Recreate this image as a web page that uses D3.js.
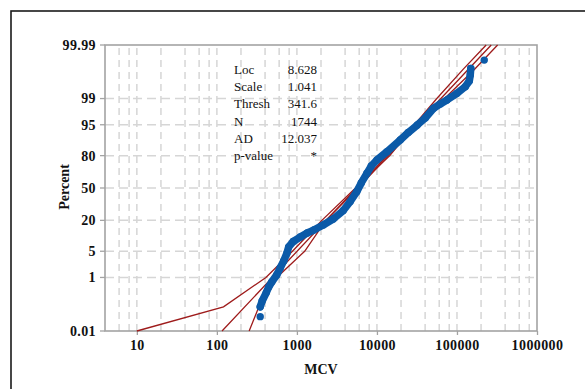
<!DOCTYPE html>
<html><head><meta charset="utf-8">
<script src="https://cdn.jsdelivr.net/npm/d3@7"></script>
<style>body{margin:0;background:#fff}svg{display:block}</style>
</head><body>
<svg id="c" width="585" height="389"></svg>
<script>
// ---- data ----
const xTickValues = [10, 100, 1000, 10000, 100000, 1000000];
const xTickLabels = ["10", "100", "1000", "10000", "100000", "1000000"];
const yTickValues = [0.01, 1, 5, 20, 50, 80, 95, 99, 99.99];
const yTickLabels = ["0.01", "1", "5", "20", "50", "80", "95", "99", "99.99"];
const yGridValues = [1, 5, 20, 50, 80, 95, 99];
const xGridMultipliers = [2, 4, 6, 8, 10];

const dataMCV = [348, 348, 368, 413, 444, 487, 559, 618, 684, 750, 790, 899, 1100, 1345, 1622, 2132, 2844, 3793, 4637, 5591, 6368, 7499, 8488, 10000, 13335, 19540, 24600, 31900, 40140, 51000, 61800, 75000, 100000, 127000, 142500, 146600, 148800, 219300];
const dataPct = [0.041, 0.10, 0.165, 0.32, 0.50, 0.74, 1.18, 1.87, 2.9, 4.5, 6.3, 8.2, 10.1, 12.1, 13.7, 16.8, 21.0, 27.9, 36.3, 46.2, 55.2, 64.9, 71.6, 76.7, 82.7, 89.4, 92.55, 94.93, 96.57, 98.09, 98.56, 98.90, 99.31, 99.58, 99.73, 99.835, 99.906, 99.956];

const fitMCV = [116, 5570, 268000];
const fitPct = [0.01, 50, 99.99];
const lowerMCV = [10, 121, 410, 880, 2050, 5400, 14500, 29500, 56000, 120000, 231700];
const lowerPct = [0.01, 0.1, 1, 5, 20, 50, 80, 95, 99, 99.9, 99.99];
const upperMCV = [253, 335, 560, 1250, 2300, 5800, 14000, 32500, 70000, 166000, 321900];
const upperPct = [0.01, 0.1, 1, 5, 20, 50, 80, 95, 99, 99.9, 99.99];

const statLabels = ["Loc", "Scale", "Thresh", "N", "AD", "p-value"];
const statValues = ["8.628", "1.041", "341.6", "1744", "12.037", "*"];

// ---- helpers ----
function probit(p) { // inverse standard normal CDF (Acklam)
  const a = [-3.969683028665376e+01, 2.209460984245205e+02, -2.759285104469687e+02, 1.383577518672690e+02, -3.066479806614716e+01, 2.506628277459239e+00];
  const b = [-5.447609879822406e+01, 1.615858368580409e+02, -1.556989798598866e+02, 6.680131188771972e+01, -1.328068155288572e+01];
  const c = [-7.784894002430293e-03, -3.223964580411365e-01, -2.400758277161838e+00, -2.549732539343734e+00, 4.374664141464968e+00, 2.938163982698783e+00];
  const d = [7.784695709041462e-03, 3.224671290700398e-01, 2.445134137142996e+00, 3.754408661907416e+00];
  const pl = 0.02425;
  let q, r;
  if (p < pl) { q = Math.sqrt(-2 * Math.log(p)); return (((((c[0]*q+c[1])*q+c[2])*q+c[3])*q+c[4])*q+c[5]) / ((((d[0]*q+d[1])*q+d[2])*q+d[3])*q+1); }
  if (p > 1 - pl) { q = Math.sqrt(-2 * Math.log(1 - p)); return -(((((c[0]*q+c[1])*q+c[2])*q+c[3])*q+c[4])*q+c[5]) / ((((d[0]*q+d[1])*q+d[2])*q+d[3])*q+1); }
  q = p - 0.5; r = q * q;
  return (((((a[0]*r+a[1])*r+a[2])*r+a[3])*r+a[4])*r+a[5])*q / (((((b[0]*r+b[1])*r+b[2])*r+b[3])*r+b[4])*r+1);
}

const svg = d3.select("#c");
const L = 105, R = 537, T = 45, B = 331;
const x = d3.scaleLog().domain([4, 1000000]).range([L, R]);
const zScale = d3.scaleLinear().domain([probit(0.0001), probit(0.9999)]).range([B, T]);
const y = pct => zScale(probit(pct / 100));
const serif = "'Liberation Serif','Times New Roman',serif";

// outer frame
svg.append("rect").attr("x", 11).attr("y", 11).attr("width", 620).attr("height", 420)
  .attr("fill", "none").attr("stroke", "#1a1a1a").attr("stroke-width", 1.6);

// grid
const gridColor = "#d6d6d6";
const xGrid = [];
for (let e = 0; e <= 5; e++) xGridMultipliers.forEach(m => { const v = m * Math.pow(10, e); if (v > 4 && v < 1000000) xGrid.push(v); });
svg.append("g").selectAll("line").data(xGrid).join("line")
  .attr("x1", d => x(d)).attr("x2", d => x(d)).attr("y1", B).attr("y2", T)
  .attr("stroke", gridColor).attr("stroke-width", 1.5).attr("stroke-dasharray", "7,5");
svg.append("g").selectAll("line").data(yGridValues).join("line")
  .attr("x1", L).attr("x2", R).attr("y1", d => y(d)).attr("y2", d => y(d))
  .attr("stroke", gridColor).attr("stroke-width", 1.5).attr("stroke-dasharray", "9,5");

// plot frame
const frameColor = "#a3a3a3";
svg.append("rect").attr("x", L).attr("y", T).attr("width", R - L).attr("height", B - T)
  .attr("fill", "none").attr("stroke", frameColor).attr("stroke-width", 1.6);

// axes
const xAxis = d3.axisBottom(x).tickValues(xTickValues).tickSize(4).tickPadding(5)
  .tickFormat((d, i) => xTickLabels[i]);
const gx = svg.append("g").attr("transform", `translate(0,${B})`).call(xAxis);
gx.select(".domain").remove();
gx.selectAll(".tick line").attr("stroke", frameColor).attr("stroke-width", 1.3);
gx.selectAll(".tick text").attr("font-family", serif)
  .attr("font-weight", "bold").attr("font-size", 14).attr("letter-spacing", 0.4).attr("fill", "#111");

const gy = svg.append("g");
gy.selectAll("line").data(yTickValues).join("line")
  .attr("x1", L - 5).attr("x2", L).attr("y1", d => y(d)).attr("y2", d => y(d))
  .attr("stroke", frameColor).attr("stroke-width", 1.3);
gy.selectAll("text").data(yTickValues).join("text")
  .attr("x", 96).attr("y", d => y(d)).attr("dy", "0.35em").attr("text-anchor", "end")
  .attr("font-family", serif)
  .attr("font-weight", "bold").attr("font-size", 14).attr("letter-spacing", 0.4).attr("fill", "#111")
  .text((d, i) => yTickLabels[i]);

// axis titles
svg.append("text").attr("x", (L + R) / 2).attr("y", 374).attr("text-anchor", "middle")
  .attr("font-family", serif).attr("font-weight", "bold")
  .attr("font-size", 14).attr("fill", "#111").text("MCV");
svg.append("text").attr("transform", `translate(69,187) rotate(-90)`).attr("text-anchor", "middle")
  .attr("font-family", serif).attr("font-weight", "bold")
  .attr("font-size", 14).attr("fill", "#111").text("Percent");

// fit and confidence lines
const lineGen = d3.line().x(d => x(d[0])).y(d => y(d[1]));
const red = "#9e1b1b";
[[lowerMCV, lowerPct], [fitMCV, fitPct], [upperMCV, upperPct]].forEach(([xs, ps]) => {
  svg.append("path").datum(xs.map((v, i) => [v, ps[i]])).attr("d", lineGen)
    .attr("fill", "none").attr("stroke", red).attr("stroke-width", 1.3);
});

// data points
const blue = "#0b5aa8";
const pts = dataMCV.map((v, i) => [v, dataPct[i]]);
svg.append("path").datum(pts.slice(1, pts.length - 1)).attr("d", lineGen)
  .attr("fill", "none").attr("stroke", blue).attr("stroke-width", 7.5)
  .attr("stroke-linejoin", "round").attr("stroke-linecap", "round");
svg.append("g").selectAll("circle").data(pts).join("circle")
  .attr("cx", d => x(d[0])).attr("cy", d => y(d[1])).attr("r", 3.7).attr("fill", blue);

// statistics box
const st = svg.append("g").attr("font-family", serif)
  .attr("font-size", 13).attr("fill", "#111");
st.selectAll("text.lab").data(statLabels).join("text").attr("class", "lab")
  .attr("x", 234).attr("y", (d, i) => 69.3 + i * 17.3).attr("dy", "0.35em").text(d => d);
st.selectAll("text.val").data(statValues).join("text").attr("class", "val")
  .attr("x", 317).attr("y", (d, i) => 69.3 + i * 17.3).attr("dy", "0.35em").attr("text-anchor", "end").text(d => d);
</script>
</body></html>
